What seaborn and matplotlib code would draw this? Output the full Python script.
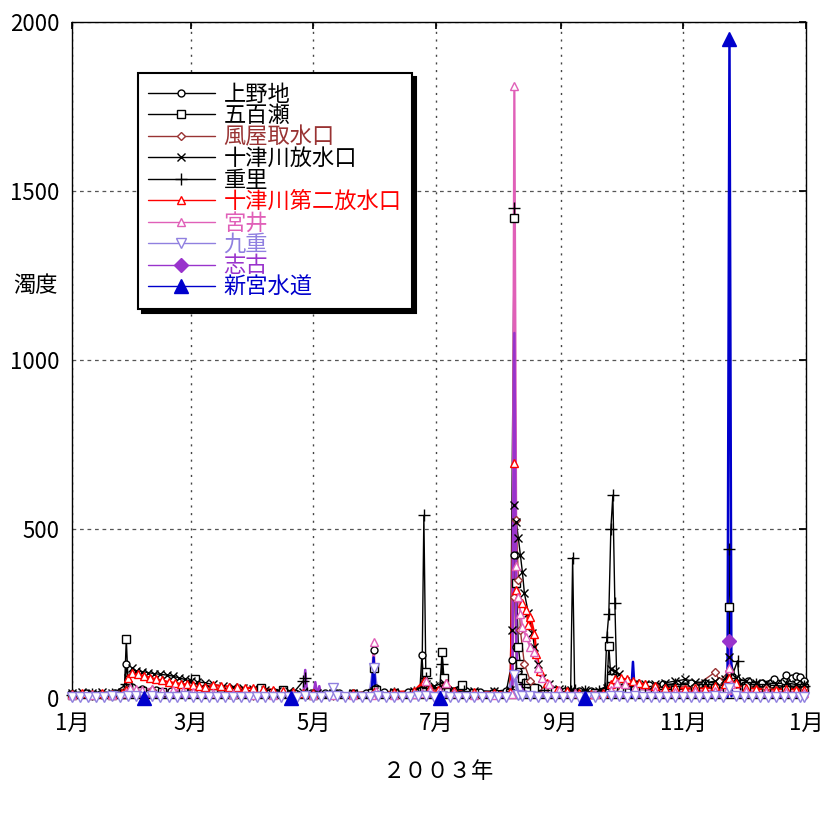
import matplotlib
matplotlib.use("Agg")
import matplotlib.pyplot as plt
from matplotlib.lines import Line2D
import pandas as pd
import seaborn as sns

sns.set_theme(style="white")
plt.rcParams["font.family"] = ["Noto Sans CJK JP", "DejaVu Sans"]

# (day from 1 Jan 2003, turbidity)
uenoji = [(0, 12), (7, 14), (14, 12), (21, 15), (26, 15), (27, 100), (28, 40), (30, 32), (35, 28), (42, 25),
          (49, 22), (56, 20), (63, 18), (70, 18), (77, 16), (84, 15), (91, 14), (98, 14), (105, 12), (112, 12),
          (119, 14), (126, 15), (133, 14), (140, 14), (146, 16), (149, 18), (150, 142), (151, 30), (155, 18),
          (161, 16), (167, 18), (173, 20), (174, 127), (175, 40), (178, 30), (184, 25), (190, 22), (196, 20),
          (203, 18), (210, 18), (216, 20), (219, 112), (220, 423), (221, 150), (222, 80), (224, 55), (227, 40),
          (232, 30), (238, 25), (245, 22), (252, 20), (258, 20), (265, 22), (270, 40), (273, 45), (280, 40),
          (287, 38), (294, 40), (301, 42), (308, 45), (315, 45), (322, 48), (327, 60), (330, 55), (336, 50),
          (343, 45), (349, 55), (354, 50), (355, 68), (358, 58), (360, 66), (362, 62), (364, 50)]
iose = [(0, 8), (10, 10), (20, 10), (26, 12), (27, 175), (28, 30), (35, 20), (45, 18), (55, 22), (60, 45),
        (61, 56), (62, 25), (70, 15), (80, 12), (90, 12), (94, 30), (100, 15), (105, 24), (110, 12), (120, 10),
        (130, 12), (140, 12), (149, 14), (150, 90), (151, 25), (160, 15), (170, 15), (175, 20), (176, 77),
        (178, 25), (183, 20), (184, 136), (185, 60), (186, 20), (194, 38), (200, 15), (210, 12), (218, 15),
        (220, 1420), (221, 340), (222, 150), (223, 100), (224, 60), (226, 45), (230, 30), (240, 20), (250, 15),
        (260, 15), (266, 20), (267, 155), (268, 60), (272, 30), (280, 25), (290, 25), (300, 25), (310, 28),
        (320, 30), (326, 30), (327, 270), (328, 60), (335, 35), (345, 30), (355, 30), (364, 30)]
kazaya = [(0, 10), (15, 10), (28, 30), (40, 25), (60, 20), (90, 12), (120, 10), (150, 15), (180, 15), (210, 12),
          (219, 15), (220, 300), (221, 527), (222, 350), (223, 200), (225, 100), (228, 50), (235, 25), (250, 15),
          (270, 30), (290, 35), (310, 35), (320, 77), (322, 50), (327, 80), (330, 40), (345, 30), (364, 30)]
totsu = [(0, 15), (5, 18), (10, 15), (15, 18), (20, 16), (25, 18), (27, 30), (28, 60), (30, 88), (32, 80),
         (35, 78), (38, 75), (41, 72), (44, 70), (47, 68), (50, 65), (53, 60), (56, 55), (59, 50), (62, 48),
         (66, 45), (70, 40), (75, 35), (80, 32), (85, 30), (90, 28), (96, 25), (102, 22), (108, 20), (115, 18),
         (122, 15), (130, 15), (140, 15), (150, 20), (160, 18), (170, 20), (176, 40), (180, 35), (185, 45),
         (190, 25), (200, 22), (210, 20), (218, 25), (219, 200), (220, 571), (221, 520), (222, 473), (223, 423),
         (224, 373), (225, 310), (227, 251), (229, 192), (230, 151), (232, 100), (234, 60), (237, 40), (242, 28),
         (248, 25), (255, 25), (262, 22), (266, 30), (268, 85), (270, 80), (272, 70), (275, 50), (280, 45),
         (285, 40), (290, 42), (295, 45), (300, 50), (305, 55), (310, 48), (315, 45), (320, 50), (325, 55),
         (327, 120), (330, 60), (335, 50), (340, 45), (345, 45), (350, 42), (355, 45), (360, 40), (364, 40)]
shigesato = [(0, 10), (10, 12), (20, 12), (27, 40), (30, 25), (40, 20), (60, 15), (90, 12), (110, 15), (115, 50),
             (116, 60), (117, 15), (130, 12), (150, 15), (160, 15), (170, 18), (174, 20), (175, 540), (176, 60),
             (177, 30), (183, 30), (184, 100), (185, 30), (195, 20), (210, 15), (219, 20), (220, 1450), (221, 80),
             (225, 40), (235, 25), (245, 20), (248, 20), (249, 415), (250, 25), (255, 20), (262, 20), (265, 30),
             (266, 180), (267, 250), (268, 500), (269, 600), (270, 280), (271, 40), (275, 35), (285, 35),
             (300, 40), (315, 40), (326, 40), (327, 440), (328, 60), (331, 110), (332, 40), (340, 40), (355, 35),
             (364, 35)]
totsu2 = [(0, 12), (5, 14), (10, 12), (15, 14), (20, 12), (25, 15), (27, 25), (28, 60), (30, 74), (33, 70),
          (36, 65), (39, 60), (42, 55), (45, 52), (48, 47), (51, 45), (54, 42), (57, 40), (60, 38), (63, 35),
          (66, 33), (70, 38), (74, 36), (78, 34), (82, 32), (86, 30), (90, 30), (95, 28), (100, 24), (105, 20),
          (110, 18), (115, 15), (120, 15), (130, 14), (140, 14), (150, 18), (160, 18), (170, 20), (175, 50),
          (178, 30), (182, 25), (186, 45), (190, 22), (200, 18), (210, 16), (218, 18), (220, 695), (221, 320),
          (222, 300), (224, 280), (226, 260), (227, 216), (228, 240), (230, 190), (231, 130), (233, 80),
          (236, 45), (241, 25), (246, 20), (252, 15), (258, 12), (264, 15), (268, 40), (270, 55), (273, 58),
          (276, 55), (279, 50), (282, 45), (285, 40), (290, 35), (295, 30), (300, 30), (305, 28), (310, 30),
          (315, 28), (320, 35), (325, 40), (327, 60), (330, 45), (335, 30), (340, 28), (345, 25), (350, 25),
          (355, 28), (360, 25), (364, 25)]
miyai = [(0, 8), (10, 8), (20, 8), (27, 15), (29, 30), (32, 28), (35, 25), (40, 28), (45, 22), (50, 25), (55, 20),
         (60, 18), (70, 15), (80, 12), (90, 10), (100, 8), (110, 8), (120, 8), (130, 8), (140, 8), (149, 10),
         (150, 165), (151, 20), (160, 10), (170, 12), (174, 15), (176, 50), (178, 25), (183, 20), (186, 45),
         (190, 15), (200, 10), (210, 10), (219, 12), (220, 1810), (221, 390), (222, 300), (223, 250), (224, 210),
         (226, 180), (228, 150), (230, 136), (232, 90), (234, 60), (237, 40), (242, 25), (250, 15), (260, 12),
         (268, 25), (271, 45), (275, 40), (280, 30), (290, 20), (300, 18), (310, 20), (320, 22), (326, 25),
         (327, 88), (328, 40), (335, 20), (345, 18), (355, 18), (364, 15)]
kokonoe = [(0, 3), (4, 4), (8, 2), (12, 4), (16, 3), (20, 5), (24, 3), (28, 6), (32, 5), (36, 4), (40, 5), (44, 3),
           (48, 4), (52, 3), (56, 5), (60, 4), (64, 3), (68, 4), (72, 3), (76, 4), (80, 3), (84, 2), (88, 3),
           (92, 4), (96, 3), (100, 2), (104, 3), (108, 4), (112, 3), (116, 5), (120, 4), (124, 3), (128, 6),
           (130, 30), (132, 5), (136, 3), (140, 4), (144, 3), (148, 4), (150, 89), (152, 5), (156, 3), (160, 4),
           (164, 3), (168, 4), (172, 5), (176, 6), (180, 4), (184, 5), (188, 3), (192, 4), (196, 3), (200, 4),
           (204, 3), (208, 4), (212, 3), (216, 4), (220, 68), (222, 10), (224, 6), (228, 5), (232, 4), (236, 3),
           (240, 4), (244, 3), (248, 4), (252, 3), (256, 4), (260, 3), (264, 4), (268, 6), (272, 5), (276, 4),
           (280, 5), (284, 4), (288, 3), (292, 4), (296, 3), (300, 4), (304, 3), (308, 4), (312, 3), (316, 4),
           (320, 5), (324, 4), (327, 30), (330, 5), (334, 4), (338, 3), (342, 4), (346, 3), (350, 4), (354, 3),
           (358, 4), (362, 3), (364, 4)]
shiko = [(0, 3), (10, 4), (20, 3), (30, 5), (40, 4), (50, 3), (60, 4), (70, 3), (80, 3), (90, 3), (100, 3),
         (110, 4), (115, 5), (116, 83), (117, 10), (120, 8), (121, 47), (122, 8), (123, 35), (124, 5), (135, 4),
         (145, 4), (150, 20), (155, 4), (170, 4), (185, 5), (200, 4), (215, 4), (219, 10), (220, 1080), (221, 150),
         (222, 60), (225, 20), (230, 10), (240, 5), (255, 4), (270, 6), (285, 5), (300, 4), (315, 5), (326, 6),
         (327, 170), (328, 10), (340, 5), (352, 4), (364, 4)]
# 新宮水道 is only sampled on some days; consecutive days are joined
shingu = [(36, 1), (109, 1), (149, 1), (150, 120), (151, 2), (183, 1), (255, 1), (278, 2), (279, 107), (280, 2),
          (326, 2), (327, 1950), (328, 5)]

shiko_marker_days = [327]
shingu_marker_days = [36, 109, 183, 255, 327]

month_ticks = ["2003-01-01", "2003-03-01", "2003-05-01", "2003-07-01", "2003-09-01", "2003-11-01", "2004-01-01"]
month_labels = ["1月", "3月", "5月", "7月", "9月", "11月", "1月"]

series = [
    ("上野地", uenoji, dict(color="black", marker="o", ms=5, mfc="white", lw=1.0), None),
    ("五百瀬", iose, dict(color="black", marker="s", ms=6, mfc="white", lw=1.0), None),
    ("風屋取水口", kazaya, dict(color="#993333", marker="D", ms=4, mfc="white", lw=1.0), None),
    ("十津川放水口", totsu, dict(color="black", marker="x", ms=6, mfc="none", lw=1.0), None),
    ("重里", shigesato, dict(color="black", marker="+", ms=8, mfc="none", lw=1.0), None),
    ("十津川第二放水口", totsu2, dict(color="#FF0000", marker="^", ms=6, mfc="white", lw=1.6), None),
    ("宮井", miyai, dict(color="#E060B8", marker="^", ms=6, mfc="white", lw=1.6), None),
    ("九重", kokonoe, dict(color="#9080E0", marker="v", ms=7.5, mfc="white", lw=2.4), None),
    ("志古", shiko, dict(color="#9933CC", marker="D", ms=7, mfc="#9933CC", lw=1.8), shiko_marker_days),
    ("新宮水道", shingu, dict(color="#0000CC", marker="^", ms=10, mfc="#0000CC", lw=1.8), shingu_marker_days),
]

start = pd.Timestamp("2003-01-01")

fig = plt.figure(figsize=(8.24, 8.16), dpi=100)
ax = fig.add_axes([0.0874, 0.1446, 0.8906, 0.8284])

# lines of every series first, then the markers on top (spreadsheet style)
handles = []
for i, (name, pts, st, mark_days) in enumerate(series):
    df = pd.DataFrame(pts, columns=["day", "value"])
    df["date"] = start + pd.to_timedelta(df["day"], unit="D")
    df["seg"] = 0
    if name == "新宮水道":
        df["seg"] = (df["day"].diff() != 1).cumsum()
    sns.lineplot(data=df, x="date", y="value", units="seg", estimator=None, ax=ax,
                 color=st["color"], linewidth=st["lw"], zorder=2 + i * 0.01)

    mk = df if mark_days is None else df[df["day"].isin(mark_days)]
    sns.lineplot(data=mk, x="date", y="value", units="seg", estimator=None, ax=ax, linestyle="none",
                 marker=st["marker"], markersize=st["ms"], markerfacecolor=st["mfc"],
                 markeredgecolor=st["color"], markeredgewidth=1.0, color=st["color"],
                 clip_on=False, zorder=3 + i * 0.01)

    handles.append(Line2D([], [], color=st["color"], marker=st["marker"], markersize=st["ms"],
                          markerfacecolor=st["mfc"], markeredgecolor=st["color"], markeredgewidth=1.0,
                          linewidth=1.0, label=name))

ax.set_xlim(pd.Timestamp("2003-01-01"), pd.Timestamp("2004-01-01"))
ax.set_ylim(0, 2000)
ax.set_xticks(pd.to_datetime(month_ticks))
ax.set_xticklabels(month_labels)
ax.set_yticks([0, 500, 1000, 1500, 2000])
ax.tick_params(direction="in", length=5, top=True, right=True, labelsize=16, colors="black")
ax.tick_params(axis="x", pad=10)
ax.tick_params(axis="y", pad=9)

ax.xaxis.grid(True, linestyle=(0, (1.5, 4)), color="#444444", linewidth=1.0)
ax.yaxis.grid(True, linestyle=(0, (3, 3)), color="#555555", linewidth=0.9)
for sp in ax.spines.values():
    sp.set_color("black")
    sp.set_linewidth(1.0)

ax.set_xlabel("２００３年", fontsize=16, color="black")
ax.xaxis.set_label_coords(0.5, -0.092)
ax.set_ylabel("濁度", fontsize=16, rotation=0, color="black", ha="center", va="center")
ax.yaxis.set_label_coords(-0.05, 0.611)

leg = ax.legend(handles=handles, loc="upper left", bbox_to_anchor=(0.09, 0.925), borderaxespad=0,
                fontsize=16, labelspacing=-0.07, handlelength=3.0, handletextpad=0.4, borderpad=0.45,
                fancybox=False, framealpha=1, edgecolor="black",
                shadow={"ox": 3, "oy": -3, "color": "black", "alpha": 1})
leg.get_frame().set_linewidth(1.5)
leg.set_zorder(20)
for txt, (name, pts, st, _) in zip(leg.get_texts(), series):
    txt.set_color(st["color"])

fig.savefig("out.png", dpi=100)
